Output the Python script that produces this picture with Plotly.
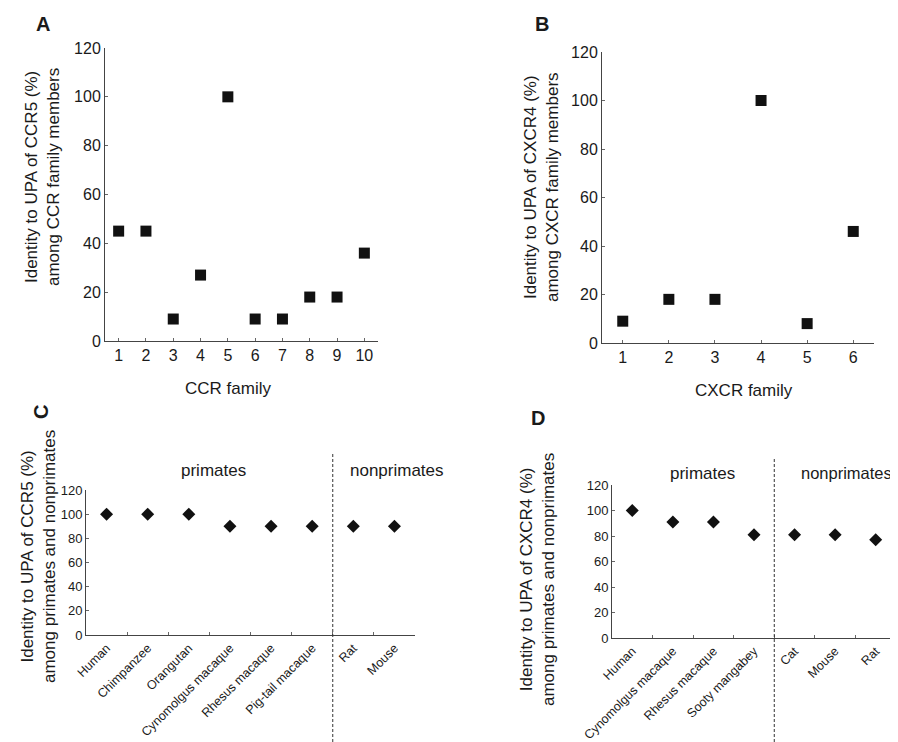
import plotly.graph_objects as go

# The page body adds an 8px margin; lay out in reference pixels and shift.
OFF = 8
W, H = 898, 742

# ---- data ----
ccr_family = [1, 2, 3, 4, 5, 6, 7, 8, 9, 10]
ccr_identity = [45, 45, 9, 27, 100, 9, 9, 18, 18, 36]

cxcr_family = [1, 2, 3, 4, 5, 6]
cxcr_identity = [9, 18, 18, 100, 8, 46]

ccr5_species = ["Human", "Chimpanzee", "Orangutan", "Cynomolgus macaque",
                "Rhesus macaque", "Pig-tail macaque", "Rat", "Mouse"]
ccr5_identity = [100, 100, 100, 90, 90, 90, 90, 90]

cxcr4_species = ["Human", "Cynomolgus macaque", "Rhesus macaque", "Sooty mangabey",
                 "Cat", "Mouse", "Rat"]
cxcr4_identity = [100, 91, 91, 81, 81, 81, 77]

y_ticks = [0, 20, 40, 60, 80, 100, 120]

FONT = "Liberation Sans, Arial, sans-serif"
INK = "#1a1a1a"


def px_x(p):
    return (p - OFF) / W


def px_y(p):
    return 1 - (p - OFF) / H


fig = go.Figure()

fig.add_trace(go.Scatter(x=ccr_family, y=ccr_identity, mode="markers",
                         marker=dict(symbol="square", size=11, color="#111"),
                         xaxis="x", yaxis="y", showlegend=False))
fig.add_trace(go.Scatter(x=cxcr_family, y=cxcr_identity, mode="markers",
                         marker=dict(symbol="square", size=11, color="#111"),
                         xaxis="x2", yaxis="y2", showlegend=False))
fig.add_trace(go.Scatter(x=ccr5_species, y=ccr5_identity, mode="markers",
                         marker=dict(symbol="diamond", size=10, color="#111"),
                         xaxis="x3", yaxis="y3", showlegend=False))
fig.add_trace(go.Scatter(x=cxcr4_species, y=cxcr4_identity, mode="markers",
                         marker=dict(symbol="diamond", size=10, color="#111"),
                         xaxis="x4", yaxis="y4", showlegend=False))

axis_common = dict(showgrid=False, zeroline=False, showline=True, automargin=False,
                   linecolor="#444", linewidth=1, ticks="inside", ticklen=3,
                   tickcolor="#666", tickfont=dict(family=FONT, color=INK))

fig.update_layout(
    template="none",
    width=W, height=H,
    margin=dict(l=0, r=0, t=0, b=0, autoexpand=False),
    paper_bgcolor="white", plot_bgcolor="white",
    font=dict(family=FONT, color=INK),
    xaxis=dict(axis_common, domain=[px_x(105), px_x(378)], range=[0.5, 10.5],
               tickvals=ccr_family, tickfont=dict(family=FONT, size=16, color=INK),
               anchor="y"),
    yaxis=dict(axis_common, domain=[px_y(341), px_y(48)], range=[0, 120],
               tickvals=y_ticks, tickfont=dict(family=FONT, size=16, color=INK),
               anchor="x"),
    xaxis2=dict(axis_common, domain=[px_x(602), px_x(874)], range=[0.55, 6.45],
                tickvals=cxcr_family, tickfont=dict(family=FONT, size=16, color=INK),
                anchor="y2"),
    yaxis2=dict(axis_common, domain=[px_y(343), px_y(52)], range=[0, 120],
                tickvals=y_ticks, tickfont=dict(family=FONT, size=16, color=INK),
                anchor="x2"),
    xaxis3=dict(axis_common, domain=[px_x(86), px_x(415)], type="category",
                range=[-0.5, 7.5], tickson="boundaries", tickangle=-45,
                tickfont=dict(family=FONT, size=12.5, color=INK), anchor="y3"),
    yaxis3=dict(axis_common, domain=[px_y(635), px_y(490)], range=[0, 120],
                tickvals=y_ticks, tickfont=dict(family=FONT, size=13, color=INK),
                anchor="x3"),
    xaxis4=dict(axis_common, domain=[px_x(612), px_x(898)], type="category",
                range=[-0.5, 6.55], tickson="boundaries", tickangle=-45,
                tickfont=dict(family=FONT, size=12.5, color=INK), anchor="y4"),
    yaxis4=dict(axis_common, domain=[px_y(638), px_y(485)], range=[0, 120],
                tickvals=y_ticks, tickfont=dict(family=FONT, size=13, color=INK),
                anchor="x4"),
)

# dashed separators between primates and nonprimates
fig.add_shape(type="line", xref="x3", yref="paper", x0=5.5, x1=5.5,
              y0=px_y(742), y1=px_y(452), line=dict(color="#333", width=1, dash="3px,2px"))
fig.add_shape(type="line", xref="x4", yref="paper", x0=3.5, x1=3.5,
              y0=px_y(742), y1=px_y(457), line=dict(color="#333", width=1, dash="3px,2px"))


def ann(text, x, y, size=17, angle=0, bold=False, xanchor="center"):
    fig.add_annotation(text=f"<b>{text}</b>" if bold else text,
                       x=px_x(x), y=px_y(y), xref="paper", yref="paper",
                       xanchor=xanchor, yanchor="middle", textangle=angle,
                       showarrow=False, font=dict(family=FONT, size=size, color=INK))


# panel letters
ann("A", 43, 24, size=20, bold=True)
ann("B", 542, 24, size=20, bold=True)
ann("C", 41, 412, size=20, bold=True, angle=-90)
ann("D", 538, 418, size=20, bold=True)

# axis titles
ann("Identity to UPA of CCR5 (%)<br>among CCR family members", 42, 177, size=17, angle=-90)
ann("CCR family", 228, 388, size=17)
ann("Identity to UPA of CXCR4 (%)<br>among CXCR family members", 541, 187, size=17, angle=-90)
ann("CXCR family", 744, 390, size=17)
ann("Identity to UPA of CCR5 (%)<br>among primates and nonprimates", 38, 557, size=17, angle=-90)
ann("Identity to UPA of CXCR4 (%)<br>among primates and nonprimates", 537, 580, size=17, angle=-90)

# group labels
ann("primates", 213, 470, size=17)
ann("nonprimates", 397, 470, size=17)
ann("primates", 702, 473, size=17)
ann("nonprimates", 846, 473, size=16.5)

fig.write_html("out.html")
